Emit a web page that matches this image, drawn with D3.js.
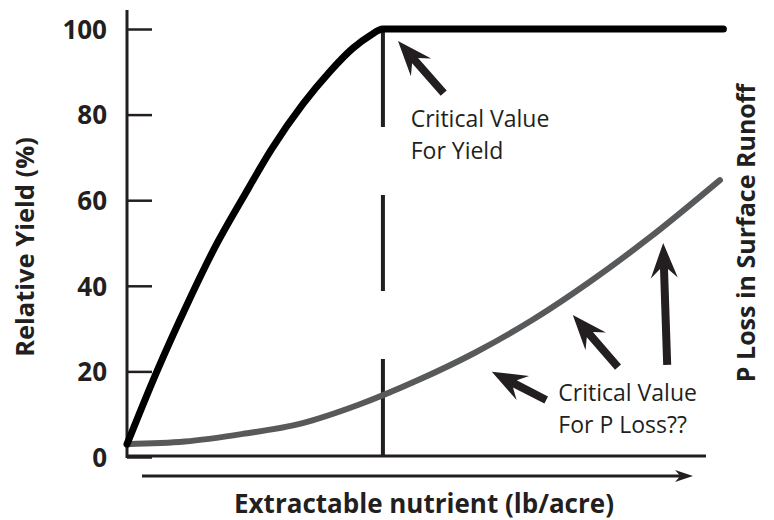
<!DOCTYPE html>
<html>
<head>
<meta charset="utf-8">
<script src="https://cdn.jsdelivr.net/npm/d3@7"></script>
<style>
  body { margin: 0; background: #fff; }
  text { font-family: "Open Sans", "Noto Sans", sans-serif; fill: #231f20; }
</style>
</head>
<body>
<svg></svg>
<script>
var width = 774,
    height = 520

// relative yield curve (x in arbitrary nutrient units, y in %)
var yieldX = [0, 5, 10.5, 15, 20, 25, 30.4, 35, 39, 42, 44.2, 103]
var yieldY = [3, 19.5, 36, 48.5, 60.5, 72, 82.5, 90, 95.5, 98.5, 100, 100]

// P loss curve (same axes)
var lossX = [0, 10, 20, 30, 40, 50, 60, 70, 80, 90, 102.4]
var lossY = [3, 3.6, 5.4, 7.8, 12.2, 17.8, 24.3, 32, 41, 51, 64.7]

var yTicks = [0, 20, 40, 60, 80, 100]
var criticalX = 44.2

// annotation arrows: [tipX, tipY, tailX, tailY] in data units
var arrows = [
  [46.8, 97.2, 54.7, 85.0],
  [63.0, 19.9, 72.4, 13.3],
  [77.0, 33.2, 84.8, 21.0],
  [92.6, 50.0, 93.3, 21.5]
]

var notes = [
  {x: 49, y: 77, lines: ["Critical Value", "For Yield"]},
  {x: 74.5, y: 13, lines: ["Critical Value", "For P Loss??"]}
]

var svg = d3.select("svg").attr("width", width).attr("height", height)

var x = d3.scaleLinear().domain([0, 100]).range([127, 706])
var y = d3.scaleLinear().domain([0, 100]).range([457, 29])

var ink = "#231f20"

// y axis with inward ticks
var yAxis = d3.axisLeft(y).tickValues(yTicks).tickSize(-25).tickPadding(20)
var gy = svg.append("g").attr("transform", "translate(" + x(0) + ",0)").call(yAxis)
gy.select(".domain").remove()
gy.selectAll(".tick line").attr("stroke", ink).attr("stroke-width", 2.5)
gy.selectAll(".tick text")
  .attr("font-size", 26).attr("font-weight", "bold")
  .attr("dy", "0.36em").attr("fill", ink)
  .style("font-family", "'Open Sans', sans-serif")

svg.append("line")
  .attr("x1", x(0)).attr("x2", x(0))
  .attr("y1", 10).attr("y2", y(0) + 1)
  .attr("stroke", ink).attr("stroke-width", 3)

svg.append("line")
  .attr("x1", x(0)).attr("x2", x(100))
  .attr("y1", y(0) - 1).attr("y2", y(0) - 1)
  .attr("stroke", ink).attr("stroke-width", 3)

// critical value dashed line
svg.append("line")
  .attr("x1", x(criticalX)).attr("x2", x(criticalX))
  .attr("y1", y(100) + 2).attr("y2", y(0) - 1)
  .attr("stroke", ink).attr("stroke-width", 4)
  .attr("stroke-dasharray", "96 68")

var line = d3.line()
  .x(function(d) { return x(d[0]) })
  .y(function(d) { return y(d[1]) })
  .curve(d3.curveMonotoneX)

svg.append("path")
  .datum(d3.zip(lossX, lossY))
  .attr("d", line)
  .attr("fill", "none")
  .attr("stroke", "#58595b")
  .attr("stroke-width", 6)
  .attr("stroke-linecap", "round")

svg.append("path")
  .datum(d3.zip(yieldX, yieldY))
  .attr("d", line)
  .attr("fill", "none")
  .attr("stroke", "#000")
  .attr("stroke-width", 7)
  .attr("stroke-linecap", "round")
  .attr("stroke-linejoin", "round")

// arrow shape along the tail->tip direction
function arrowPath(x1, y1, x2, y2, headLen, headHalf, notch, shaftHalf) {
  var dx = x2 - x1, dy = y2 - y1
  var len = Math.sqrt(dx * dx + dy * dy)
  var ux = dx / len, uy = dy / len
  var px = -uy, py = ux
  function pt(a, b) { return [x1 + ux * a + px * b, y1 + uy * a + py * b] }
  var pts = [
    pt(0, shaftHalf),
    pt(len - headLen + notch, shaftHalf),
    pt(len - headLen, headHalf),
    pt(len, 0),
    pt(len - headLen, -headHalf),
    pt(len - headLen + notch, -shaftHalf),
    pt(0, -shaftHalf)
  ]
  return "M" + pts.map(function(p) { return p[0].toFixed(1) + "," + p[1].toFixed(1) }).join("L") + "Z"
}

svg.selectAll(".note-arrow")
  .data(arrows)
  .enter().append("path")
  .attr("class", "note-arrow")
  .attr("d", function(d) {
    return arrowPath(x(d[2]), y(d[3]), x(d[0]), y(d[1]), 35, 13.5, 9, 4)
  })
  .attr("fill", ink)

var note = svg.selectAll(".note")
  .data(notes)
  .enter().append("text")
  .attr("class", "note")
  .attr("x", function(d) { return x(d.x) })
  .attr("y", function(d) { return y(d.y) })
  .attr("font-size", 23)

note.selectAll("tspan")
  .data(function(d) { return d.lines.map(function(l, i) { return {t: l, i: i, x: d.x} }) })
  .enter().append("tspan")
  .attr("x", function(d) { return x(d.x) })
  .attr("dy", function(d) { return d.i == 0 ? 0 : 32 })
  .text(function(d) { return d.t })

// direction arrow under the x axis
svg.append("path")
  .attr("d", arrowPath(142, 476, 693, 476, 18, 6, 4, 1.5))
  .attr("fill", ink)

svg.append("text")
  .attr("x", 424).attr("y", 513)
  .attr("text-anchor", "middle")
  .attr("font-size", 26).attr("font-weight", "bold")
  .text("Extractable nutrient (lb/acre)")

svg.append("text")
  .attr("transform", "translate(34,247) rotate(-90)")
  .attr("text-anchor", "middle")
  .attr("font-size", 25.5).attr("font-weight", "bold")
  .text("Relative Yield (%)")

svg.append("text")
  .attr("transform", "translate(755,233) rotate(-90)")
  .attr("text-anchor", "middle")
  .attr("font-size", 25).attr("font-weight", "bold")
  .text("P Loss in Surface Runoff")
</script>
</body>
</html>
